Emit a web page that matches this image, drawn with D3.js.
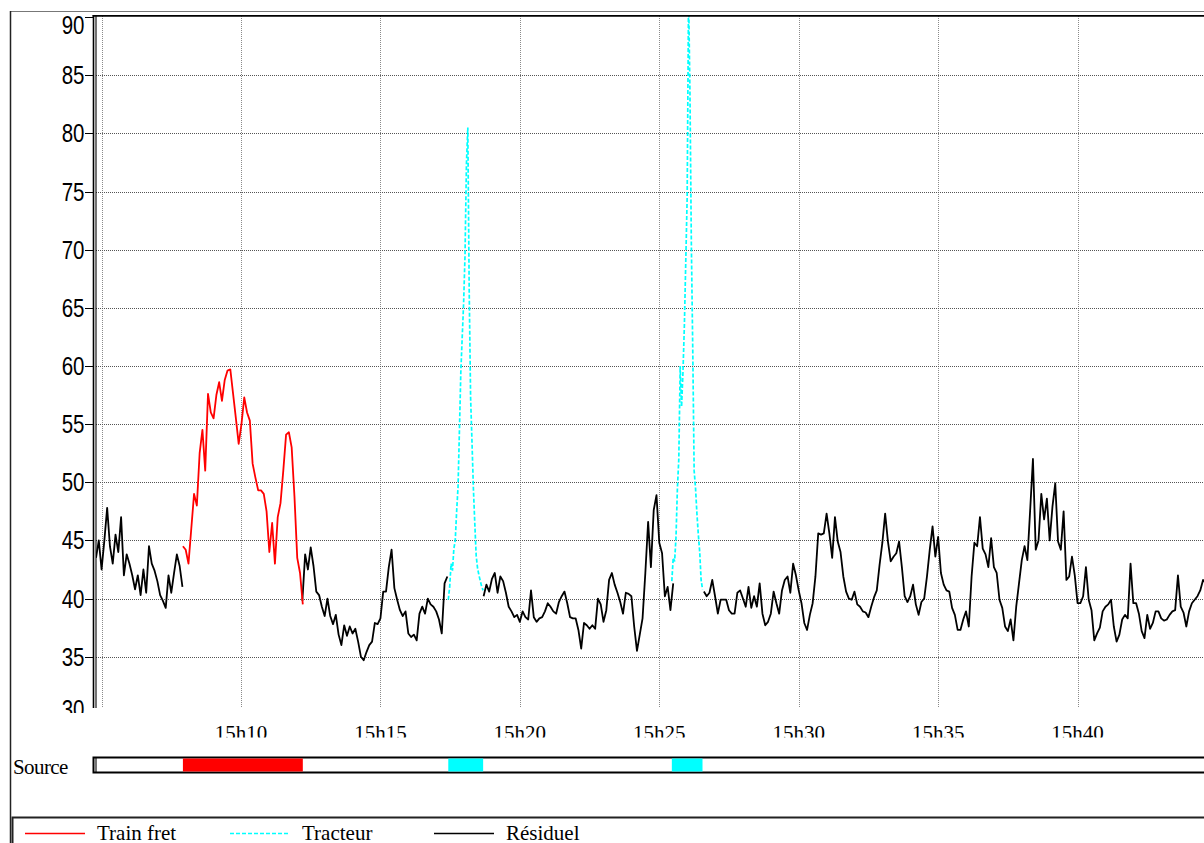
<!DOCTYPE html>
<html>
<head>
<meta charset="utf-8">
<script src="https://cdn.jsdelivr.net/npm/d3@7"></script>
<style>
  body { margin: 0; background: #fff; }
  svg { display: block; }
</style>
</head>
<body>
<svg id="chart" width="1204" height="843"></svg>
<script>
// all times are seconds after 15h00
const residuelStep = 6;
const residuelAStart = 288;
const residuelA = [43.5, 45, 42.5, 45, 47.8, 44.5, 43, 45.5, 44, 47, 42, 43.8, 43, 42, 40.8, 42,
  40.3, 42.5, 40.5, 44.5, 43, 42.4, 41.5, 40.3, 39.8, 39.2, 42, 40.5, 42.2, 43.8, 42.8, 41];
const residuelBStart = 732;
const residuelB = [39.8, 43.8, 42.5, 44.4, 42.8, 40.6, 40.3, 39.3, 38.5, 40.0, 38.5, 37.8, 38.6, 36.9,
  36.0, 37.7, 36.8, 37.6, 37.0, 37.4, 36.3, 35.0, 34.7, 35.4, 36.0, 36.3, 37.9, 37.8, 38.3, 40.6, 40.6,
  42.7, 44.2, 40.9, 39.9, 39.0, 38.5, 38.9, 37.0, 36.7, 36.9, 36.4, 38.7, 39.3, 38.7, 40.0, 39.5, 39.3,
  38.9, 38.2, 37.0, 41.3, 41.9];
const residuelCStart = 1122;
const residuelC = [40.2, 41.2, 40.6, 41.7, 42.2, 40.5, 41.9, 41.5, 40.5, 39.3, 38.9, 38.4, 38.6, 38.0,
  38.9, 38.4, 38.2, 40.7, 38.4, 38.0, 38.3, 38.4, 38.9, 39.6, 39.3, 38.9, 38.7, 39.7, 40.2, 40.6, 39.6,
  38.4, 38.3, 38.3, 37.3, 35.7, 37.9, 37.7, 37.4, 37.7, 37.4, 40.0, 39.5, 38.0, 39.0, 41.6, 42.2, 41.2,
  40.5, 39.7, 38.7, 40.5, 40.4, 40.2, 37.6, 35.5, 36.9, 38.3, 42.2, 46.6, 42.7, 47.6, 48.9, 44.8, 43.9,
  40.2, 41.0, 39.0, 41.3];
const residuelDStart = 1596;
const residuelD = [40.6, 40.2, 40.5, 41.6, 40.2, 38.7, 39.9, 39.9, 39.9, 39.0, 38.7, 38.7, 40.5, 40.7,
  40.0, 39.3, 41.0, 39.2, 40.2, 39.3, 41.3, 38.7, 37.7, 38.0, 38.7, 40.6, 39.6, 38.7, 40.7, 41.6, 41.9,
  40.5, 43.0, 42.0, 40.7, 39.6, 37.9, 37.3, 38.6, 39.6, 41.9, 45.6, 45.5, 45.6, 47.3, 45.6, 43.5, 47.0,
  44.9, 44.0, 41.9, 40.6, 40.0, 39.9, 40.6, 39.5, 39.3, 38.9, 38.8, 38.4, 39.3, 40.1, 40.7, 42.9, 44.8,
  47.3, 44.9, 43.2, 43.6, 43.9, 44.9, 42.7, 40.2,
  39.7, 40.2, 41.2, 39.5, 38.6, 39.7, 40.0, 41.9, 44.2, 46.2, 43.6, 45.3, 42.2, 41.2, 40.7, 40.6, 39.2,
  38.6, 37.3, 37.3, 38.2, 38.9, 37.6, 41.9, 44.8, 44.5, 47.0, 44.3, 43.8, 42.7, 45.2, 42.7, 42.2, 39.9,
  39.2, 37.6, 37.2, 38.2, 36.4, 39.3, 41.3, 43.3, 44.5, 43.3, 47.6, 52.0, 44.2, 45.0, 49.0, 46.8, 48.6,
  45.0, 47.9, 49.9, 44.9, 44.2, 47.5, 41.6, 41.9, 43.6, 42.0, 39.6, 39.6, 40.2, 42.7, 39.9, 39.0, 36.4,
  37.0, 37.5, 38.9, 39.3, 39.5, 39.9, 37.6, 36.3, 36.9, 38.2, 38.6, 38.3, 43.0, 39.6, 39.6, 38.7, 37.2,
  36.6, 38.6, 37.4, 37.9, 38.9, 38.9, 38.3, 38.1, 38.2, 38.6, 38.9, 39.0, 42.0, 39.3, 38.8, 37.6, 38.9,
  39.6, 39.9, 40.2, 40.7, 41.6, 41.3];

const trainFretStart = 475, trainFretStep = 6;
const trainFret = [44.5, 44.2, 43.0, 46.0, 49.0, 48.0, 52.5, 54.5, 51.0, 57.6, 56.0, 55.5, 57.5, 58.6,
  57.0, 58.8, 59.6, 59.7, 57.6, 55.5, 53.3, 55.0, 57.3, 56.0, 55.3, 51.6, 50.4, 49.3, 49.3, 49.0, 47.5,
  44.0, 46.5, 43.0, 47.0, 48.2, 51.0, 54.1, 54.3, 53.0, 48.8, 43.5, 42.2, 39.5];

const tracteurStep = 3;
const tracteur1Start = 1046;
const tracteur1 = [39.9, 41.0, 43.0, 42.4, 44.3, 45.0, 47.5, 49.6, 54.5, 59.5, 62.5, 65.4, 69.5, 77.3,
  80.5, 66.5, 57.3, 53.5, 49.5, 46.5, 43.7, 42.6, 42.0, 41.5, 41.0, 40.7];
const tracteur2Start = 1527;
const tracteur2 = [41.5, 43.5, 43.2, 45.3, 49.5, 52.0, 60.0, 56.5, 59.5, 63.5, 69.0, 74.5, 92.0, 83.5,
  70.5, 61.5, 51.0, 49.5, 47.3, 45.5, 44.0, 41.6, 40.8];

const yTicks = [30, 35, 40, 45, 50, 55, 60, 65, 70, 75, 80, 85, 90];
const legendLabels = ["Train fret", "Tracteur", "Résiduel"];

const base = new Date(2000, 0, 1, 15, 0, 0).getTime();
const sec = s => new Date(base + s * 1000);
const toPoints = (vals, start, step) => vals.map((v, i) => ({ t: sec(start + i * step), v: v }));

const svg = d3.select("#chart");
const W = 1204;
const plotTop = 16, plotBottom = 708, plotLeft = 96;

const x = d3.scaleTime().domain([sec(288), sec(2728)]).range([96, 1230]);
const y = d3.scaleLinear().domain([30.59, 90.09]).range([plotBottom, plotTop]);

const defs = svg.append("defs");
defs.append("clipPath").attr("id", "plotClip").append("rect")
  .attr("x", plotLeft).attr("y", plotTop).attr("width", W - plotLeft).attr("height", plotBottom - plotTop);
defs.append("clipPath").attr("id", "xlabClip").append("rect")
  .attr("x", plotLeft).attr("y", 712).attr("width", W - plotLeft).attr("height", 25.5);
defs.append("clipPath").attr("id", "ylabClip").append("rect")
  .attr("x", 0).attr("y", plotTop).attr("width", 93).attr("height", 713 - plotTop);

// outer frame
svg.append("line").attr("x1", 10).attr("x2", W).attr("y1", 11.5).attr("y2", 11.5)
  .attr("stroke", "#777").attr("stroke-width", 1);
svg.append("line").attr("x1", 10.5).attr("x2", 10.5).attr("y1", 11).attr("y2", 843)
  .attr("stroke", "#222").attr("stroke-width", 1.5);

// grid
const xTicks = x.ticks(d3.timeMinute.every(5)).filter(d => x(d) > plotLeft && x(d) < W);
svg.append("g").selectAll("line").data(xTicks).enter().append("line")
  .attr("x1", d => Math.round(x(d)) + 0.5).attr("x2", d => Math.round(x(d)) + 0.5)
  .attr("y1", plotTop).attr("y2", plotBottom)
  .attr("stroke", "#8a8a8a").attr("stroke-dasharray", "1,1");

const yIn = yTicks.filter(v => y(v) <= plotBottom && y(v) > plotTop + 2);
svg.append("g").selectAll("line").data(yIn).enter().append("line")
  .attr("x1", plotLeft).attr("x2", W)
  .attr("y1", d => Math.round(y(d)) + 0.5).attr("y2", d => Math.round(y(d)) + 0.5)
  .attr("stroke", "#555").attr("stroke-dasharray", "1,1");

// series
const line = d3.line().x(d => x(d.t)).y(d => y(d.v));
const plot = svg.append("g").attr("clip-path", "url(#plotClip)");

[[residuelA, residuelAStart], [residuelB, residuelBStart], [residuelC, residuelCStart], [residuelD, residuelDStart]]
  .forEach(([vals, start]) => {
    plot.append("path").datum(toPoints(vals, start, residuelStep))
      .attr("d", line).attr("fill", "none").attr("stroke", "#000")
      .attr("stroke-width", 1.8).attr("stroke-linejoin", "round");
  });

plot.append("path").datum(toPoints(trainFret, trainFretStart, trainFretStep))
  .attr("d", line).attr("fill", "none").attr("stroke", "#ff0000")
  .attr("stroke-width", 1.8).attr("stroke-linejoin", "round");

[[tracteur1, tracteur1Start], [tracteur2, tracteur2Start]].forEach(([vals, start]) => {
  plot.append("path").datum(toPoints(vals, start, tracteurStep))
    .attr("d", line).attr("fill", "none").attr("stroke", "#00ffff")
    .attr("stroke-width", 1.7).attr("stroke-dasharray", "4,2");
});

// plot border (top + double left)
svg.append("line").attr("x1", 92.5).attr("x2", W).attr("y1", 15.8).attr("y2", 15.8)
  .attr("stroke", "#000").attr("stroke-width", 1.8);
svg.append("line").attr("x1", 93.5).attr("x2", 93.5).attr("y1", 15).attr("y2", plotBottom)
  .attr("stroke", "#000").attr("stroke-width", 1.6);
svg.append("line").attr("x1", 96).attr("x2", 96).attr("y1", 15).attr("y2", plotBottom)
  .attr("stroke", "#000").attr("stroke-width", 1.1);

// y axis ticks + labels
const yAxisG = svg.append("g").attr("clip-path", "url(#ylabClip)");
yAxisG.selectAll("line").data(yTicks).enter().append("line")
  .attr("x1", 85).attr("x2", 93)
  .attr("y1", d => Math.round(y(d)) + 0.5).attr("y2", d => Math.round(y(d)) + 0.5)
  .attr("stroke", "#000").attr("stroke-width", 1);
yAxisG.selectAll("text").data(yTicks).enter().append("text")
  .attr("transform", d => `translate(84.5,${Math.min(Math.max(y(d), 25), 709)}) scale(0.82,1)`)
  .attr("text-anchor", "end").attr("dy", "0.36em")
  .attr("font-family", "Liberation Sans, Arial, sans-serif").attr("font-size", 25)
  .attr("fill", "#000")
  .text(d => d);

// x labels
const fmt = d3.timeFormat("%Hh%M");
svg.append("g").attr("clip-path", "url(#xlabClip)")
  .selectAll("text").data(xTicks.filter(d => x(d) - 26 > plotLeft)).enter().append("text")
  .attr("x", d => x(d)).attr("y", 739.5)
  .attr("text-anchor", "middle")
  .attr("font-family", "Liberation Serif, Times New Roman, serif").attr("font-size", 21)
  .attr("fill", "#000")
  .text(d => fmt(d));

// source bar
svg.append("text").attr("x", 13).attr("y", 774)
  .attr("font-family", "Liberation Serif, Times New Roman, serif").attr("font-size", 21)
  .attr("letter-spacing", -0.6)
  .text("Source");
svg.append("rect").attr("x", 93.5).attr("y", 757.5).attr("width", 1130).attr("height", 15)
  .attr("fill", "#fff").attr("stroke", "#000").attr("stroke-width", 2);
const sourceSpans = [
  { color: "#ff0000", s: trainFretStart, e: trainFretStart + (trainFret.length - 1) * trainFretStep },
  { color: "#00ffff", s: tracteur1Start, e: tracteur1Start + (tracteur1.length - 1) * tracteurStep },
  { color: "#00ffff", s: tracteur2Start, e: tracteur2Start + (tracteur2.length - 1) * tracteurStep }
];
svg.append("g").selectAll("rect").data(sourceSpans).enter().append("rect")
  .attr("x", d => x(sec(d.s))).attr("width", d => x(sec(d.e)) - x(sec(d.s)))
  .attr("y", 758.5).attr("height", 13)
  .attr("fill", d => d.color);
svg.append("line").attr("x1", 96).attr("x2", 96).attr("y1", 758).attr("y2", 772)
  .attr("stroke", "#000").attr("stroke-width", 1.1);

// legend
svg.append("rect").attr("x", 12.5).attr("y", 817.5).attr("width", 1250).attr("height", 60)
  .attr("fill", "none").attr("stroke", "#222").attr("stroke-width", 2);
const legendStyle = [
  { color: "#ff0000", dash: null, x: 25 },
  { color: "#00ffff", dash: "4,2", x: 230 },
  { color: "#000", dash: null, x: 434 }
];
const lg = svg.append("g").selectAll("g").data(legendLabels).enter().append("g");
lg.append("line")
  .attr("x1", (d, i) => legendStyle[i].x).attr("x2", (d, i) => legendStyle[i].x + 60)
  .attr("y1", 833.5).attr("y2", 833.5)
  .attr("stroke", (d, i) => legendStyle[i].color).attr("stroke-width", 1.6)
  .attr("stroke-dasharray", (d, i) => legendStyle[i].dash);
lg.append("text")
  .attr("x", (d, i) => legendStyle[i].x + 72).attr("y", 839.5)
  .attr("font-family", "Liberation Serif, Times New Roman, serif").attr("font-size", 21)
  .attr("fill", "#000")
  .text(d => d);
</script>
</body>
</html>
